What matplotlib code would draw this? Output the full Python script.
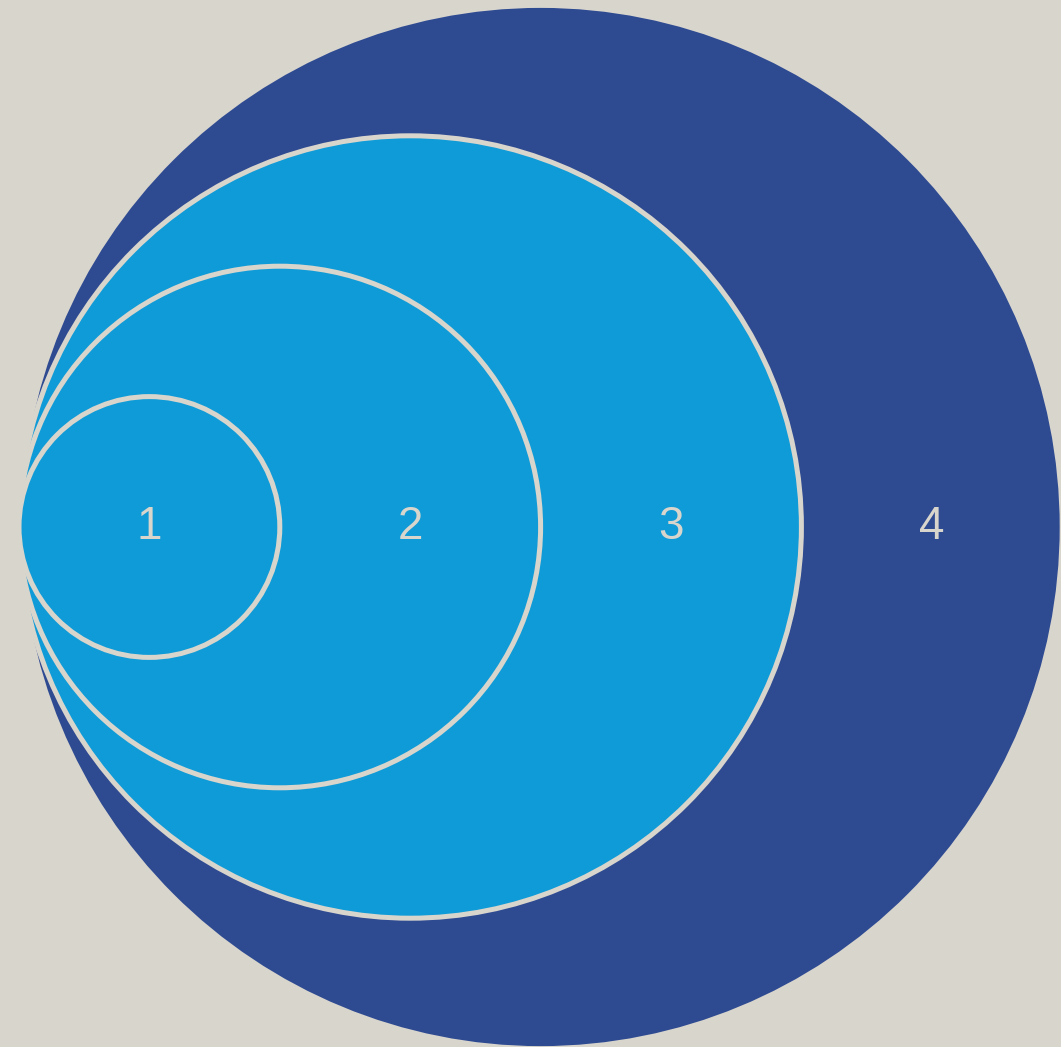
import matplotlib
matplotlib.use('Agg')
import matplotlib.pyplot as plt
from matplotlib.patches import Circle

# nested circle sizes (radius units), all touching at the left edge
labels = ['1', '2', '3', '4']
radii = [1, 2, 3, 4]
fills = ['#0F9BD7', '#0F9BD7', '#0F9BD7', '#2E4A91']

bg = '#D8D5CD'
px = 130.4  # pixels per radius unit
left_px, mid_px = 19, 527
W, H = 1061, 1047

fig = plt.figure(figsize=(W / 100, H / 100), dpi=100, facecolor=bg)
ax = fig.add_axes([0, 0, 1, 1])
ax.set_facecolor(bg)
ax.set_xlim(-left_px / px, (W - left_px) / px)
ax.set_ylim((H - mid_px) / px, -mid_px / px)
ax.axis('off')

# smaller circles sit on top of bigger ones
for r, c in zip(radii, fills):
    ax.add_patch(Circle((r, 0), r, facecolor=c, edgecolor=bg, linewidth=3.6, zorder=10 - r))

# label in the middle of each ring band
for i, lab in enumerate(labels):
    ax.text(2 * i + 1, 0, lab, color='#D8D5CD', fontsize=33, family='Liberation Sans',
            ha='center', va='center', zorder=20)

fig.savefig('out.png', dpi=100, facecolor=bg)
